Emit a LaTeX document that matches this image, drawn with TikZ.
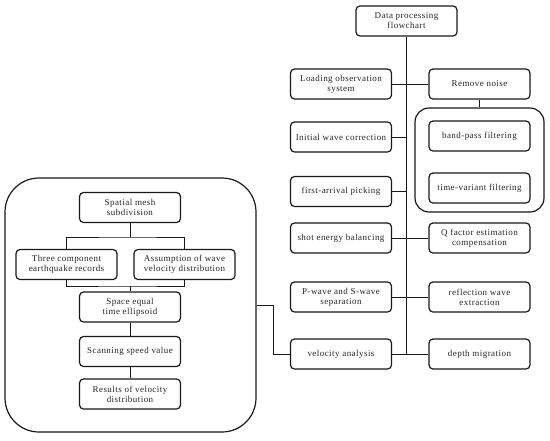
\documentclass[tikz,border=0pt]{standalone}
\usepackage{fontspec}
\setmainfont{Liberation Serif}[LetterSpace=5]
\usetikzlibrary{positioning}

\begin{document}
\begin{tikzpicture}[x=1pt, y=-1pt,
    every node/.style={font=\fontsize{9}{10}\selectfont, align=center, text=black!85},
    stagebox/.style={draw=black!90, line width=1.2pt, rounded corners=4pt, fill=white,
        minimum width=101pt, minimum height=30pt, inner sep=1pt},
    groupbox/.style={draw=black!90, line width=1.2pt, fill=none},
    link/.style={draw=black!90, line width=0.9pt}]
    \useasboundingbox (0,0) rectangle (550,440);
    % outer groups
    \node[groupbox, rounded corners=34pt, minimum width=251pt, minimum height=254pt] (inversion) at (130.5,305) {};
    \node[groupbox, rounded corners=14pt, minimum width=129pt, minimum height=104pt] (filters) at (479.5,160) {};
    % main flow
    \node[stagebox] (head) at (406.5,21) {Data processing\\flowchart};
    \node[stagebox] (loading) at (341,84) {Loading observation\\system};
    \node[stagebox] (noise) at (479.5,84) {Remove noise};
    \node[stagebox] (bandpass) at (479.5,136) {band-pass filtering};
    \node[stagebox] (timevar) at (479.5,188) {time-variant filtering};
    \node[stagebox] (initial) at (341,137) {Initial wave correction};
    \node[stagebox] (picking) at (341,191.5) {first-arrival picking};
    \node[stagebox] (shot) at (341,238) {shot energy balancing};
    \node[stagebox] (qfactor) at (479.5,238) {Q factor estimation\\compensation};
    \node[stagebox] (separation) at (341,297) {P-wave and S-wave\\separation};
    \node[stagebox] (reflection) at (479.5,297) {reflection wave\\extraction};
    \node[stagebox] (velocity) at (341,354) {velocity analysis};
    \node[stagebox] (depth) at (479.5,354) {depth migration};
    % velocity inversion group
    \node[stagebox] (mesh) at (130,207.5) {Spatial mesh\\subdivision};
    \node[stagebox] (records) at (66.5,264.5) {Three component\\earthquake records};
    \node[stagebox] (assume) at (184.5,264.5) {Assumption of wave\\velocity distribution};
    \node[stagebox] (ellipsoid) at (130,307) {Space equal\\time ellipsoid};
    \node[stagebox] (scanning) at (130,351.5) {Scanning speed value};
    \node[stagebox] (results) at (130,394) {Results of velocity\\distribution};
    \coordinate (trunkend) at (406.5,354);
    \coordinate (split) at (130,237);
    \coordinate (merge) at (130,286);
    \coordinate (bend) at (273,305);
    % trunk and branches
    \draw[link] (head.south) -- (trunkend);
    \draw[link] (loading.east) -- (noise.west);
    \draw[link] (initial.east) -- (initial.east -| head.south);
    \draw[link] (picking.east) -- (picking.east -| head.south);
    \draw[link] (shot.east) -- (qfactor.west);
    \draw[link] (separation.east) -- (reflection.west);
    \draw[link] (velocity.east) -- (depth.west);
    \draw[link] (noise.south) -- (filters.north);
    \draw[link] (inversion.east) -- (bend) |- (velocity.west);
    % inside the group
    \draw[link] (mesh.south) -- (split);
    \draw[link] (records.north) |- (split) -| (assume.north);
    \draw[link] (records.south) |- (merge) -| (assume.south);
    \draw[link] (merge) -- (ellipsoid.north);
    \draw[link] (ellipsoid.south) -- (scanning.north);
    \draw[link] (scanning.south) -- (results.north);
\end{tikzpicture}
\end{document}
